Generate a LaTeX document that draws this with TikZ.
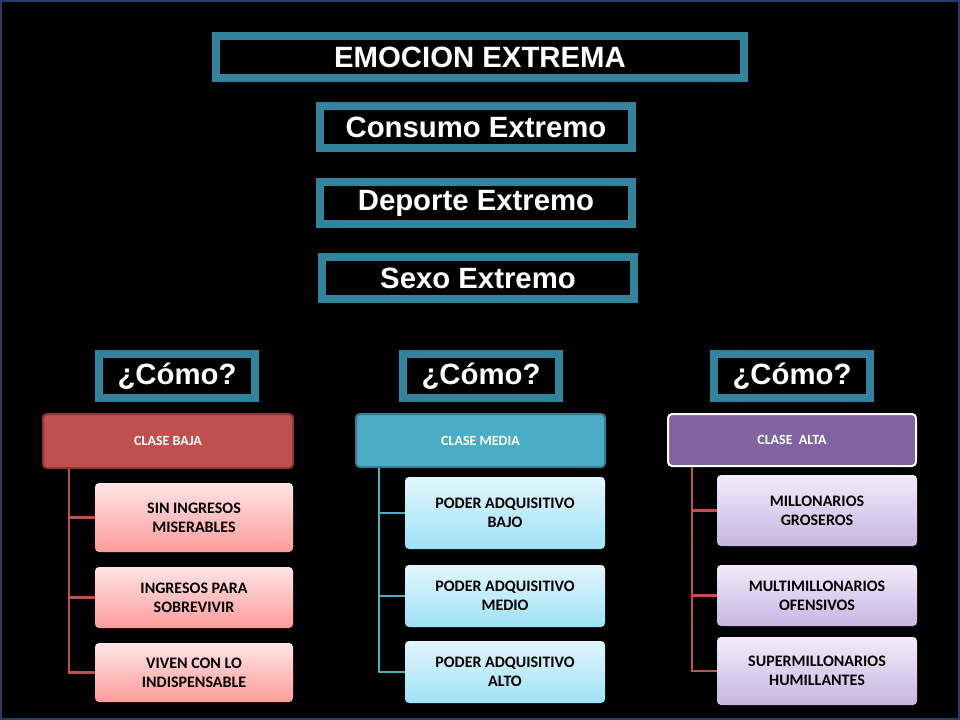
\documentclass[tikz,border=0pt]{standalone}
\usepackage{fontspec}
\setmainfont{Liberation Sans}
\newfontfamily\calibfont{Carlito}
\begin{document}
\begin{tikzpicture}[x=0.75pt,y=-0.75pt,
  teal/.style={draw=tealc,line width=6pt,fill=black,text=white,font=\bfseries\fontsize{22}{26}\selectfont},
  hdr/.style={rounded corners=3pt,line width=1.5pt,text=white,font=\calibfont\bfseries\fontsize{10.5}{12}\selectfont},
  kid/.style={rounded corners=3pt,text=black,align=center,font=\calibfont\bfseries\fontsize{12}{14}\selectfont},
  pinkk/.style={kid,top color=pinkT,bottom color=pinkB},
  bluek/.style={kid,top color=blueT,bottom color=blueB},
  purk/.style={kid,top color=purT,bottom color=purB}]
\definecolor{tealc}{HTML}{31849B}
\definecolor{pinkT}{HTML}{FFE4E4}\definecolor{pinkB}{HTML}{FF9C9C}
\definecolor{blueT}{HTML}{E2F6FC}\definecolor{blueB}{HTML}{9EE2F5}
\definecolor{purT}{HTML}{F2EBFA}\definecolor{purB}{HTML}{C6B6E2}
\definecolor{redc}{HTML}{C0504D}\definecolor{redd}{HTML}{8C3836}
\definecolor{bluec}{HTML}{4BACC6}\definecolor{blued}{HTML}{357D91}
\definecolor{purc}{HTML}{8064A2}
\newcommand\mkbox[7]{\node[#6,inner sep=0pt,minimum width=#4*0.75pt-#2*0.75pt,minimum height=#5*0.75pt-#3*0.75pt] (#1) at ({(#2+#4)/2},{(#3+#5)/2}) {#7};}
\fill[black] (0,0) rectangle (960,720);
\draw[color={rgb,255:red,40;green,60;blue,100},line width=1.5pt] (1,1) rectangle (959,719);
\mkbox{t1}{216}{36}{744}{78}{teal}{EMOCION EXTREMA}
\mkbox{t2}{320}{106}{632}{148}{teal}{Consumo Extremo}
\mkbox{t3}{320}{182}{632}{224}{teal}{Deporte Extremo}
\mkbox{t4}{322}{257}{634}{299}{teal}{Sexo Extremo}
\mkbox{c1}{99}{354}{255}{398}{teal}{¿Cómo?}
\mkbox{c2}{403}{354}{559}{398}{teal}{¿Cómo?}
\mkbox{c3}{714}{354}{870}{398}{teal}{¿Cómo?}
% headers
\mkbox{h1}{43}{414}{293}{468}{hdr,fill=redc,draw=redd}{CLASE BAJA}
\mkbox{h2}{356}{414}{605}{467}{hdr,fill=bluec,draw=blued}{CLASE MEDIA}
\mkbox{h3}{668}{414}{916}{466}{hdr,fill=purc,draw=white}{CLASE ~ALTA}
% children
\mkbox{a1}{95}{483}{293}{552}{pinkk}{SIN INGRESOS\\MISERABLES}
\mkbox{a2}{95}{567}{293}{628}{pinkk}{INGRESOS PARA\\SOBREVIVIR}
\mkbox{a3}{95}{643}{293}{702}{pinkk}{VIVEN CON LO\\INDISPENSABLE}
\mkbox{b1}{405}{477}{605}{549}{bluek}{PODER ADQUISITIVO\\BAJO}
\mkbox{b2}{405}{565}{605}{627}{bluek}{PODER ADQUISITIVO\\MEDIO}
\mkbox{b3}{405}{641}{605}{703}{bluek}{PODER ADQUISITIVO\\ALTO}
\mkbox{d1}{717}{475}{917}{546}{purk}{MILLONARIOS\\GROSEROS}
\mkbox{d2}{717}{565}{917}{626}{purk}{MULTIMILLONARIOS\\OFENSIVOS}
\mkbox{d3}{717}{637}{917}{705}{purk}{SUPERMILLONARIOS\\HUMILLANTES}
% connectors
\coordinate (ha) at ([xshift=27*0.75pt]h1.south west);
\coordinate (hb) at ([xshift=24*0.75pt]h2.south west);
\coordinate (hc) at ([xshift=25*0.75pt]h3.south west);
\foreach \k in {a1,a2,a3}{\draw[redc,line width=2pt] (ha) |- (\k.west);}
\foreach \k in {b1,b2,b3}{\draw[bluec,line width=2pt] (hb) |- (\k.west);}
\foreach \k in {d1,d2,d3}{\draw[redc,line width=2pt] (hc) |- (\k.west);}
\end{tikzpicture}
\end{document}
